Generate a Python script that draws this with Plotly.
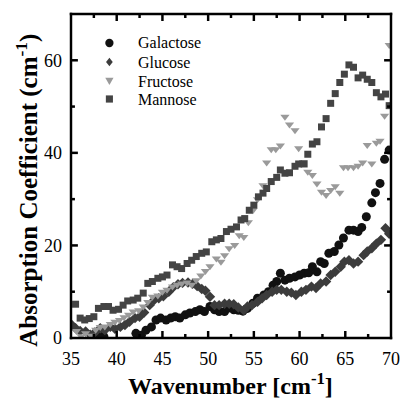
import plotly.graph_objects as go

# Absorption spectra of four monosaccharides (wavenumber in cm^-1, absorption in cm^-1)
galactose_x = [37.5, 38.0, 38.6, 42.1, 42.7, 43.2, 43.8, 44.3, 44.8, 45.4, 45.9, 46.4, 46.9,
               47.5, 48.0, 48.6, 49.1, 49.6, 50.2, 50.7, 51.2, 51.8, 52.3, 52.8, 53.3, 53.8,
               54.3, 54.9, 55.4, 56.1, 56.6, 57.1, 57.5, 57.9, 58.4, 58.9, 59.5, 60.0, 60.5,
               61.0, 61.4, 61.9, 62.3, 62.7, 63.2, 63.8, 64.3, 64.8, 65.4, 65.9, 66.4, 66.8,
               67.3, 67.9, 68.3, 68.8, 69.3, 69.8]
galactose_y = [0.3, 0.6, 0.3, 1.0, 0.6, 1.7, 2.4, 3.9, 4.3, 3.9, 4.3, 4.6, 4.3,
               5.0, 5.4, 5.7, 6.1, 5.7, 6.8, 6.1, 5.7, 5.7, 6.5, 6.1, 6.0, 5.8,
               6.4, 7.5, 8.6, 9.3, 10.0, 11.4, 12.2, 14.0, 12.5, 12.9, 13.2, 13.6, 14.0,
               14.1, 15.4, 14.3, 16.5, 16.1, 18.3, 18.7, 20.1, 21.6, 23.3, 23.3, 23.0, 23.9,
               26.2, 29.2, 31.4, 33.4, 38.6, 40.6]

glucose_x = [35.1, 35.5, 36.0, 36.6, 37.1, 37.6, 38.2, 38.7, 39.3, 39.8, 40.4, 40.9, 41.4,
             42.0, 42.5, 43.0, 43.6, 44.1, 44.6, 45.1, 45.7, 46.2, 46.7, 47.2, 47.8, 48.3,
             48.8, 49.3, 49.7, 50.2, 50.7, 51.2, 51.8, 52.3, 52.8, 53.3, 53.9, 54.3, 54.8,
             55.4, 55.9, 56.4, 57.0, 57.5, 58.0, 58.6, 59.1, 59.6, 60.2, 60.7, 61.3, 61.8,
             62.3, 62.9, 63.4, 63.9, 64.5, 64.9, 65.4, 65.9, 66.4, 67.0, 67.4, 67.9, 68.4,
             68.9, 69.4, 69.8]
glucose_y = [2.8, 2.1, 1.5, 1.4, 0.7, 1.2, 2.1, 1.7, 2.4, 2.0, 2.4, 2.8, 3.5,
             4.3, 4.6, 5.5, 7.1, 8.2, 8.6, 9.0, 10.0, 11.0, 11.6, 11.9, 12.0, 11.7,
             11.2, 10.6, 10.2, 8.9, 7.1, 7.1, 7.4, 7.4, 7.3, 6.6, 6.0, 6.8, 7.1,
             7.8, 8.6, 9.3, 10.0, 10.4, 10.4, 10.0, 9.8, 9.3, 10.0, 10.4, 11.1, 10.8,
             11.8, 12.2, 13.6, 14.3, 15.4, 16.5, 16.8, 16.1, 16.5, 17.9, 18.7, 19.4, 20.4,
             21.2, 23.7, 22.5]

fructose_x = [35.6, 36.1, 36.6, 37.2, 37.7, 38.2, 38.7, 39.3, 39.8, 40.3, 40.8, 41.3, 41.8,
              42.4, 42.9, 43.4, 43.9, 44.5, 45.0, 45.5, 46.1, 46.6, 47.1, 47.7, 48.2, 48.7,
              49.2, 49.7, 50.2, 50.9, 51.4, 51.8, 52.3, 52.9, 53.4, 53.9, 54.4, 54.9, 55.4,
              56.0, 56.4, 56.9, 57.4, 57.9, 58.4, 58.9, 59.5, 59.9, 60.4, 60.9, 61.4, 61.9,
              62.4, 62.9, 63.4, 63.9, 64.4, 64.8, 65.3, 65.9, 66.4, 66.9, 67.4, 67.9, 68.4,
              68.8, 69.3, 69.8]
fructose_y = [1.5, 0.4, 1.0, 0.5, 1.8, 2.4, 2.5, 3.0, 3.5, 3.9, 4.5, 5.0, 5.7,
              6.0, 6.8, 7.8, 8.9, 9.2, 10.0, 10.4, 11.1, 11.5, 11.8, 12.0, 11.5, 12.5,
              13.5, 14.5, 15.5, 17.2, 16.5, 17.9, 19.4, 20.1, 22.2, 21.8, 25.0, 27.6, 30.0,
              33.0, 37.9, 40.8, 40.8, 41.6, 47.8, 46.1, 44.9, 41.0, 38.0, 35.9, 35.2, 33.4,
              31.6, 30.9, 32.0, 32.8, 31.4, 36.9, 36.9, 36.9, 37.2, 37.9, 41.7, 37.7, 42.2,
              42.6, 48.0, 63.3]

mannose_x = [35.5, 36.0, 36.5, 37.0, 37.5, 38.0, 38.6, 39.1, 39.6, 40.2, 40.7, 41.2, 41.8,
             42.3, 42.9, 43.4, 43.9, 44.5, 45.0, 45.5, 46.1, 46.6, 47.1, 47.7, 48.2, 48.7,
             49.3, 49.8, 50.4, 50.9, 51.4, 52.0, 52.5, 53.1, 53.6, 54.0, 54.5, 55.0, 55.5,
             56.0, 56.4, 56.9, 57.5, 57.9, 58.4, 58.9, 59.5, 59.9, 60.5, 60.9, 61.4, 61.9,
             62.4, 62.9, 63.4, 63.9, 64.4, 64.9, 65.4, 65.9, 66.4, 66.9, 67.4, 67.9, 68.4,
             68.9, 69.4, 69.8]
mannose_y = [7.3, 4.3, 3.9, 4.2, 4.6, 6.4, 6.8, 6.8, 6.0, 6.2, 7.1, 8.0, 8.2,
             8.6, 9.7, 11.8, 12.2, 12.9, 13.2, 13.6, 15.8, 15.4, 15.0, 16.1, 16.8, 17.6,
             18.3, 18.6, 20.8, 21.2, 21.5, 23.0, 23.5, 24.0, 25.5, 25.8, 27.6, 28.7, 30.5,
             31.3, 32.3, 33.8, 34.7, 36.3, 35.6, 35.7, 37.1, 37.6, 37.6, 39.7, 41.9, 42.4,
             45.6, 47.4, 50.7, 52.8, 55.2, 57.0, 59.0, 58.5, 56.2, 56.8, 55.9, 55.2, 53.0,
             52.1, 52.7, 50.2]

x_range = [35, 70]
y_range = [0, 70]
x_major = [40, 45, 50, 55, 60, 65]
x_minor = [37.5, 42.5, 47.5, 52.5, 57.5, 62.5, 67.5]
y_major = [20, 40, 60]
y_minor = [10, 30, 50]

SERIF = "Liberation Serif, Times New Roman, serif"

series_names = ["Galactose", "Glucose", "Fructose", "Mannose"]
series_x = [galactose_x, glucose_x, fructose_x, mannose_x]
series_y = [galactose_y, glucose_y, fructose_y, mannose_y]
symbols = ["circle", "diamond", "triangle-down", "square"]
sizes = [9, 8, 8, 7]
colors = ["#111111", "#3c3c3c", "#9a9a9a", "#444444"]

fig = go.Figure()
for name, xs, ys, sym, size, col in zip(series_names, series_x, series_y, symbols, sizes, colors):
    fig.add_trace(go.Scatter(
        x=xs, y=ys, mode="markers", name=name, showlegend=False,
        marker=dict(symbol=sym, size=size, color=col, line=dict(width=0)),
    ))

# Plot-area geometry in pixels
W, H = 412, 401
L, R, T, B = 71, 16, 14, 63
PW, PH = W - L - R, H - T - B
DX, DY = 1 / PW, 1 / PH                      # one pixel in paper units
UX = (x_range[1] - x_range[0]) / PW          # one pixel in x data units
UY = (y_range[1] - y_range[0]) / PH          # one pixel in y data units


def px_to_paper(px, py):
    return (px - L) / PW, (H - B - py) / PH


shapes = []
annotations = []
HALF = 1.25  # half thickness of frame and tick strokes, px


def fill_rect(xref, yref, x0, x1, y0, y1, col="#000000"):
    shapes.append(dict(type="rect", xref=xref, yref=yref, x0=x0, x1=x1, y0=y0, y1=y1,
                       fillcolor=col, opacity=1, line=dict(width=0), layer="above"))


# Frame around the plotting area, as filled strips
fill_rect("paper", "paper", -HALF * DX, HALF * DX, -HALF * DY, 1 + HALF * DY)
fill_rect("paper", "paper", 1 - HALF * DX, 1 + HALF * DX, -HALF * DY, 1 + HALF * DY)
fill_rect("paper", "paper", -HALF * DX, 1 + HALF * DX, -HALF * DY, HALF * DY)
fill_rect("paper", "paper", -HALF * DX, 1 + HALF * DX, 1 - HALF * DY, 1 + HALF * DY)

# Inward ticks on all four sides
for vals, ln in [(x_major, 7), (x_minor, 4)]:
    for v in vals:
        fill_rect("x", "paper", v - HALF * UX, v + HALF * UX, 0, ln * DY)
        fill_rect("x", "paper", v - HALF * UX, v + HALF * UX, 1 - ln * DY, 1)
for vals, ln in [(y_major, 7), (y_minor, 4)]:
    for v in vals:
        fill_rect("paper", "y", 0, ln * DX, v - HALF * UY, v + HALF * UY)
        fill_rect("paper", "y", 1 - ln * DX, 1, v - HALF * UY, v + HALF * UY)

# Key: small glyph + label per series
key_x, key_text_x = 110, 137
key_rows = [43, 62, 81, 99]
for name, sym, col, ry in zip(series_names, symbols, colors, key_rows):
    cx, cy = px_to_paper(key_x, ry)
    if sym == "circle":
        r = 4.2
        shapes.append(dict(type="circle", xref="paper", yref="paper",
                           x0=cx - r * DX, x1=cx + r * DX, y0=cy - r * DY, y1=cy + r * DY,
                           fillcolor=col, line=dict(width=0)))
    elif sym == "square":
        r = 3.6
        fill_rect("paper", "paper", cx - r * DX, cx + r * DX, cy - r * DY, cy + r * DY, col)
    else:
        if sym == "diamond":
            pts = [(0, 4.2), (3.4, 0), (0, -4.2), (-3.4, 0)]
        else:  # downward triangle
            pts = [(-4.2, 3.2), (4.2, 3.2), (0, -4.0)]
        path = "M " + " L ".join(f"{cx + px * DX:.5f},{cy + py * DY:.5f}" for px, py in pts) + " Z"
        shapes.append(dict(type="path", xref="paper", yref="paper", path=path,
                           fillcolor=col, line=dict(width=0)))
    tx, ty = px_to_paper(key_text_x, ry)
    annotations.append(dict(text=name, xref="paper", yref="paper", x=tx, y=ty,
                            xanchor="left", yanchor="middle", showarrow=False,
                            font=dict(family=SERIF, size=16, color="black")))

xt_x, xt_y = px_to_paper(233, 384)
yt_x, yt_y = px_to_paper(26, 190)
annotations += [
    dict(text="<b>Wavenumber [cm<sup>-1</sup>]</b>", xref="paper", yref="paper",
         x=xt_x, y=xt_y, xanchor="center", yanchor="middle", showarrow=False,
         font=dict(family=SERIF, size=24, color="black")),
    dict(text="<b>Absorption Coefficient (cm<sup>-1</sup>)</b>", xref="paper", yref="paper",
         x=yt_x, y=yt_y, xanchor="center", yanchor="middle", showarrow=False,
         textangle=-90, font=dict(family=SERIF, size=25, color="black")),
]

axis_common = dict(
    showgrid=False, zeroline=False, showline=False, ticks="",
    tickfont=dict(family=SERIF, size=18, color="black"),
    ticklabelstandoff=8,
)

fig.update_layout(
    width=W, height=H,
    margin=dict(l=L, r=R, t=T, b=B),
    paper_bgcolor="white", plot_bgcolor="white",
    xaxis=dict(range=x_range, tickmode="linear", tick0=35, dtick=5, **axis_common),
    yaxis=dict(range=y_range, tickmode="linear", tick0=0, dtick=20, **axis_common),
    showlegend=False,
    shapes=shapes,
    annotations=annotations,
)

fig.write_html("out.html")
